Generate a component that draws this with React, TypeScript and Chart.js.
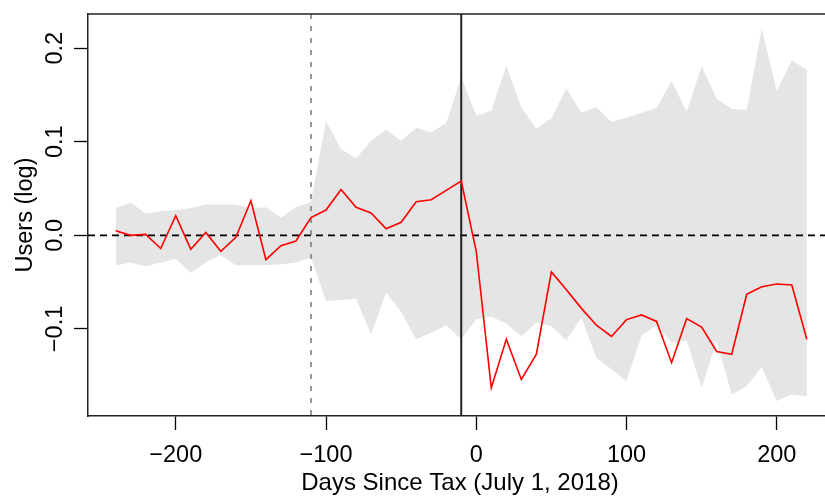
import React, { useEffect, useRef } from 'react';
import { Chart, registerables } from 'chart.js';

Chart.register(...registerables);

// ---- data ----
const days = [
  -240, -230, -220, -210, -200, -190, -180, -170, -160, -150, -140, -130, -120, -110,
  -100, -90, -80, -70, -60, -50, -40, -30, -20, -10,
  0, 10, 20, 30, 40, 50, 60, 70, 80, 90, 100, 110, 120, 130, 140, 150, 160, 170, 180,
  190, 200, 210, 220,
];

const estimate = [
  0.005, 0.0, 0.001, -0.014, 0.021, -0.015, 0.003, -0.017, -0.002, 0.037, -0.026, -0.011, -0.006, 0.019,
  0.027, 0.049, 0.030, 0.024, 0.007, 0.014, 0.036, 0.038, 0.048, 0.058,
  -0.017, -0.163, -0.111, -0.154, -0.127, -0.039, -0.058, -0.078, -0.096, -0.108, -0.090, -0.085, -0.092,
  -0.136, -0.089, -0.098, -0.124, -0.127, -0.063, -0.055, -0.052, -0.053, -0.111,
];

const upperCI = [
  0.029, 0.035, 0.023, 0.026, 0.027, 0.029, 0.033, 0.033, 0.033, 0.029, 0.030, 0.019, 0.030, 0.036,
  0.122, 0.092, 0.082, 0.101, 0.113, 0.101, 0.115, 0.110, 0.120, 0.169,
  0.128, 0.133, 0.181, 0.137, 0.114, 0.125, 0.157, 0.131, 0.137, 0.121, 0.126, 0.131, 0.136,
  0.165, 0.132, 0.181, 0.146, 0.135, 0.134, 0.221, 0.154, 0.187, 0.177,
];

const lowerCI = [
  -0.032, -0.029, -0.033, -0.029, -0.025, -0.040, -0.029, -0.021, -0.032, -0.032, -0.032, -0.031, -0.029, -0.024,
  -0.070, -0.069, -0.068, -0.106, -0.061, -0.082, -0.111, -0.104, -0.096, -0.111,
  -0.090, -0.087, -0.094, -0.108, -0.093, -0.097, -0.112, -0.088, -0.131, -0.143, -0.156, -0.107, -0.096,
  -0.115, -0.112, -0.163, -0.113, -0.170, -0.161, -0.141, -0.177, -0.170, -0.172,
];

const xTicks = [-200, -100, 0, 100, 200];
const xTickLabels = ['\u2212200', '\u2212100', '0', '100', '200'];
const yTicks = [-0.1, 0.0, 0.1, 0.2];
const yTickLabels = ['\u22120.1', '0.0', '0.1', '0.2'];
const xTitle = 'Days Since Tax (July 1, 2018)';
const yTitle = 'Users (log)';
const preTrendDay = -110;
const taxDay = -10;
const xRange = [-258.4, 232.1];
const yRange = [-0.193, 0.2365];

const FONT = '"Liberation Sans", Arial, Helvetica, sans-serif';
const FONT_SIZE = 23.5;

const overlayPlugin = {
  id: 'rOverlay',
  beforeDatasetDraw(chart: any, args: any) {
    if (args.index !== 2) return;
    const { ctx, chartArea } = chart;
    const xs = chart.scales.x;
    const ys = chart.scales.y;
    ctx.save();
    ctx.beginPath();
    ctx.rect(chartArea.left, chartArea.top, chartArea.right - chartArea.left, chartArea.bottom - chartArea.top);
    ctx.clip();
    // zero line
    const y0 = ys.getPixelForValue(0);
    ctx.strokeStyle = '#000';
    ctx.lineWidth = 1.8;
    ctx.setLineDash([7, 5]);
    ctx.beginPath();
    ctx.moveTo(chartArea.left, y0);
    ctx.lineTo(chartArea.right, y0);
    ctx.stroke();
    // pre-trend dashed vertical
    const xp = xs.getPixelForValue(preTrendDay);
    ctx.strokeStyle = '#777';
    ctx.lineWidth = 1.5;
    ctx.setLineDash([5, 7]);
    ctx.beginPath();
    ctx.moveTo(xp, chartArea.top);
    ctx.lineTo(xp, chartArea.bottom);
    ctx.stroke();
    // tax day solid vertical
    const xt = xs.getPixelForValue(taxDay);
    ctx.strokeStyle = '#222';
    ctx.lineWidth = 2;
    ctx.setLineDash([]);
    ctx.beginPath();
    ctx.moveTo(xt, chartArea.top);
    ctx.lineTo(xt, chartArea.bottom);
    ctx.stroke();
    ctx.restore();
  },
  afterDraw(chart: any) {
    const { ctx, chartArea } = chart;
    const xs = chart.scales.x;
    const ys = chart.scales.y;
    ctx.save();
    // top border of box
    ctx.strokeStyle = '#222';
    ctx.lineWidth = 1.5;
    ctx.beginPath();
    ctx.moveTo(chartArea.left, chartArea.top);
    ctx.lineTo(chartArea.right, chartArea.top);
    ctx.stroke();

    ctx.fillStyle = '#000';
    ctx.font = `${FONT_SIZE}px ${FONT}`;
    // x tick labels
    ctx.textAlign = 'center';
    ctx.textBaseline = 'alphabetic';
    xTicks.forEach((v, i) => {
      ctx.fillText(xTickLabels[i], xs.getPixelForValue(v), 462);
    });
    // x title
    ctx.font = `24px ${FONT}`;
    ctx.fillText(xTitle, 460, 490);
    ctx.font = `${FONT_SIZE}px ${FONT}`;
    // y tick labels (rotated)
    yTicks.forEach((v, i) => {
      ctx.save();
      ctx.translate(62, ys.getPixelForValue(v));
      ctx.rotate(-Math.PI / 2);
      ctx.fillText(yTickLabels[i], 0, 0);
      ctx.restore();
    });
    // y title
    ctx.save();
    ctx.translate(32, (chartArea.top + chartArea.bottom) / 2);
    ctx.rotate(-Math.PI / 2);
    ctx.fillText(yTitle, 0, 0);
    ctx.restore();
    ctx.restore();
  },
};

export default function App() {
  const canvasRef = useRef<HTMLCanvasElement | null>(null);

  useEffect(() => {
    document.body.style.margin = '0';
    const canvas = canvasRef.current;
    if (!canvas) return;
    const pts = (arr: number[]) => days.map((d, i) => ({ x: d, y: arr[i] }));
    const chart = new Chart(canvas, {
      type: 'line',
      data: {
        datasets: [
          {
            label: 'lower',
            data: pts(lowerCI),
            borderColor: 'rgba(0,0,0,0)',
            borderWidth: 0,
            pointRadius: 0,
            fill: false,
            order: 2,
          },
          {
            label: 'upper',
            data: pts(upperCI),
            borderColor: 'rgba(0,0,0,0)',
            borderWidth: 0,
            pointRadius: 0,
            backgroundColor: 'rgb(229,229,229)',
            fill: '-1',
            order: 1,
          },
          {
            label: 'estimate',
            data: pts(estimate),
            borderColor: '#ff0000',
            borderWidth: 1.6,
            pointRadius: 0,
            fill: false,
            tension: 0,
            order: 0,
          },
        ],
      },
      options: {
        responsive: false,
        animation: false,
        devicePixelRatio: 1,
        layout: { padding: { top: 14, left: 0, right: 0, bottom: 0 } },
        plugins: {
          legend: { display: false },
          tooltip: { enabled: false },
        },
        scales: {
          x: {
            type: 'linear',
            min: xRange[0],
            max: xRange[1],
            afterBuildTicks: (s: any) => {
              s.ticks = xTicks.map((v) => ({ value: v }));
            },
            afterFit: (s: any) => {
              s.height = 81;
            },
            ticks: { display: false },
            grid: {
              drawOnChartArea: false,
              drawTicks: true,
              tickLength: 14,
              tickColor: '#000',
              tickWidth: 1.3,
            },
            border: { display: true, color: '#222', width: 1.5 },
          },
          y: {
            type: 'linear',
            min: yRange[0],
            max: yRange[1],
            afterBuildTicks: (s: any) => {
              s.ticks = yTicks.map((v) => ({ value: v }));
            },
            afterFit: (s: any) => {
              s.width = 88;
            },
            ticks: { display: false },
            grid: {
              drawOnChartArea: false,
              drawTicks: true,
              tickLength: 14,
              tickColor: '#000',
              tickWidth: 1.3,
            },
            border: { display: true, color: '#222', width: 1.5 },
          },
        },
      },
      plugins: [overlayPlugin],
    });
    return () => chart.destroy();
  }, []);

  return (
    <div style={{ width: 825, height: 497 }}>
      <canvas ref={canvasRef} width={825} height={497} style={{ display: 'block', width: 825, height: 497 }} />
    </div>
  );
}
